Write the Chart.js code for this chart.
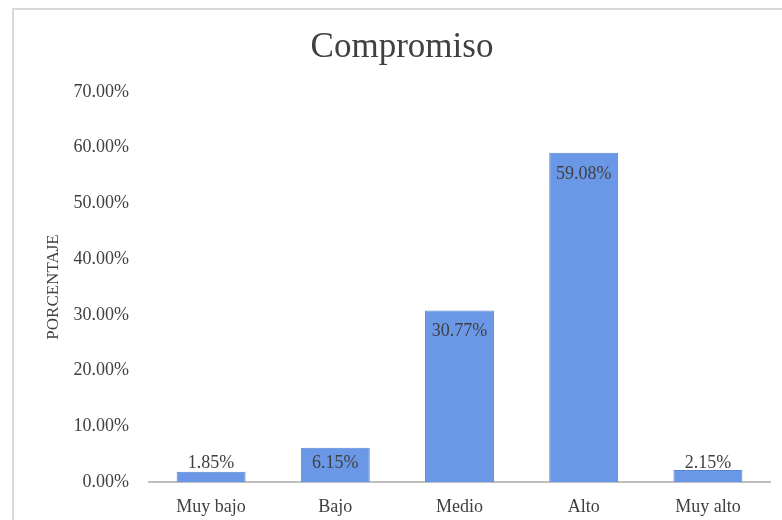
<!DOCTYPE html>
<html lang="es">
<head>
  <meta charset="UTF-8" />
  <title>Compromiso</title>
  <script src="https://cdn.jsdelivr.net/npm/chart.js"></script>
  <style>
    html, body { margin: 0; padding: 0; background: #fff; overflow: hidden; }
    #frame {
      position: absolute;
      left: 12px;
      top: 8px;
      width: 778px;
      height: 520px;
      border-left: 2px solid #d9d9d9;
      border-top: 2px solid #d9d9d9;
    }
    #chart { display: block; }
  </style>
</head>
<body>
  <div id="frame">
    <canvas id="chart" width="778" height="520"></canvas>
  </div>

  <script>
    const categories = ['Muy bajo', 'Bajo', 'Medio', 'Alto', 'Muy alto'];
    const percentages = [1.85, 6.15, 30.77, 59.08, 2.15];
    const yTicks = [0, 10, 20, 30, 40, 50, 60, 70];

    const serif = '"Liberation Serif", "Times New Roman", serif';
    const textColor = '#404040';

    // value labels near the top of each bar, pushed up when the bar is short
    const barLabels = {
      id: 'barLabels',
      afterDatasetsDraw(chart) {
        const ctx = chart.ctx;
        const meta = chart.getDatasetMeta(0);
        ctx.save();
        ctx.font = '18px ' + serif;
        ctx.fillStyle = textColor;
        ctx.textAlign = 'center';
        ctx.textBaseline = 'middle';
        meta.data.forEach((bar, i) => {
          const y = Math.min(bar.y + 21, bar.base - 19);
          ctx.fillText(percentages[i].toFixed(2) + '%', bar.x, y);
        });
        ctx.restore();
      }
    };

    new Chart(document.getElementById('chart'), {
      type: 'bar',
      data: {
        labels: categories,
        datasets: [{
          data: percentages,
          backgroundColor: '#6a97e6',
          borderColor: '#5a86d8',
          borderWidth: 1,
          categoryPercentage: 1,
          barPercentage: 0.555
        }]
      },
      options: {
        responsive: false,
        animation: false,
        layout: { padding: { left: 20, right: 22, top: 0, bottom: 0 } },
        plugins: {
          legend: { display: false },
          tooltip: { enabled: false },
          title: {
            display: true,
            text: 'Compromiso',
            color: '#404040',
            font: { family: serif, size: 35, weight: 'normal', lineHeight: 1.2 },
            padding: { top: 17, bottom: 23 }
          }
        },
        scales: {
          x: {
            grid: { display: false, drawTicks: false },
            border: { display: true, color: '#bfbfbf', width: 2 },
            ticks: {
              color: textColor,
              font: { family: serif, size: 18 },
              padding: 14
            },
            afterFit(scale) { scale.height = 48; }
          },
          y: {
            min: 0,
            max: 70,
            grid: { display: false, drawTicks: false },
            border: { display: false },
            afterBuildTicks(scale) { scale.ticks = yTicks.map(v => ({ value: v })); },
            ticks: {
              color: textColor,
              font: { family: serif, size: 18 },
              padding: 20,
              callback: v => v.toFixed(2) + '%'
            },
            title: {
              display: true,
              text: 'PORCENTAJE',
              color: textColor,
              font: { family: serif, size: 17 },
              padding: { top: 9, bottom: 0 }
            },
            afterFit(scale) { scale.width = 115; }
          }
        }
      },
      plugins: [barLabels]
    });
  </script>
</body>
</html>
